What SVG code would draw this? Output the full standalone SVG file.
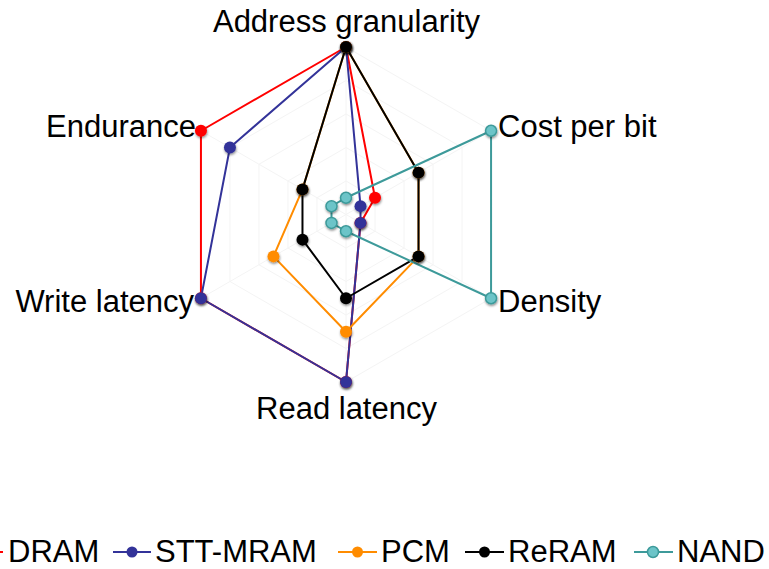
<svg xmlns="http://www.w3.org/2000/svg" width="769" height="569" viewBox="0 0 769 569">
<style>
text{font-family:"Liberation Sans",Arial,sans-serif;font-size:31px;fill:#000}
.grid{fill:none;stroke:#f4f4f4;stroke-width:1}
.s{fill:none;stroke-width:2;stroke-linejoin:round}
.dram{stroke:#ff0000}.stt{stroke:#333399}.pcm{stroke:#ff8c00}.rer{stroke:#000}.nand{stroke:#3d9a9a}
.d{filter:url(#sh)}
.dram-d{fill:#ff0000}.stt-d{fill:#333399}.pcm-d{fill:#ff8c00}.rer-d{fill:#000}.nand-d{fill:#6cc4c8;stroke:#3d9a9a;stroke-width:1.5}
</style>
<defs>
<filter id="sh" x="-50%" y="-50%" width="200%" height="200%"><feDropShadow dx="0.5" dy="1.5" stdDeviation="1.2" flood-opacity="0.45"/></filter>
</defs>
<rect width="769" height="569" fill="#fff"/>
<g id="grid">
<polygon class="grid" points="346,47 491.06,130.75 491.06,298.25 346,382 200.94,298.25 200.94,130.75"/>
<polygon class="grid" points="346,80.5 462.05,147.5 462.05,281.5 346,348.5 229.95,281.5 229.95,147.5"/>
<polygon class="grid" points="346,114 433.04,164.25 433.04,264.75 346,315 258.96,264.75 258.96,164.25"/>
<polygon class="grid" points="346,147.5 404.02,181 404.02,248 346,281.5 287.98,248 287.98,181"/>
<polygon class="grid" points="346,181 375.01,197.75 375.01,231.25 346,248 316.99,231.25 316.99,197.75"/>
<path class="grid" d="M346,214.5L346,47M346,214.5L491.06,130.75M346,214.5L491.06,298.25M346,214.5L346,382M346,214.5L200.94,298.25M346,214.5L200.94,130.75"/>
</g>
<g id="connectors">
<polygon class="s dram" points="346,47 375.01,197.75 360.51,222.88 346,382 200.94,298.25 200.94,130.75"/>
<polygon class="s stt" points="346,47 360.51,206.13 360.51,222.88 346,382 200.94,298.25 229.95,147.5"/>
<polygon class="s pcm" points="346,47 418.53,172.63 418.53,256.38 346,331.75 273.47,256.38 302.48,189.38"/>
<polygon class="s rer" points="346,47 418.53,172.63 418.53,256.38 346,298.25 302.48,239.63 302.48,189.38"/>
<polygon class="s nand" points="346,197.75 491.06,130.75 491.06,298.25 346,231.25 331.49,222.88 331.49,206.13"/>
</g>
<g id="node-dram">
<circle class="d dram-d" cx="346" cy="47" r="6"/><circle class="d dram-d" cx="375.01" cy="197.75" r="6"/><circle class="d dram-d" cx="360.51" cy="222.88" r="6"/><circle class="d dram-d" cx="346" cy="382" r="6"/><circle class="d dram-d" cx="200.94" cy="298.25" r="6"/><circle class="d dram-d" cx="200.94" cy="130.75" r="6"/>
</g>
<g id="node-stt">
<circle class="d stt-d" cx="346" cy="47" r="6"/><circle class="d stt-d" cx="360.51" cy="206.13" r="6"/><circle class="d stt-d" cx="360.51" cy="222.88" r="6"/><circle class="d stt-d" cx="346" cy="382" r="6"/><circle class="d stt-d" cx="200.94" cy="298.25" r="6"/><circle class="d stt-d" cx="229.95" cy="147.5" r="6"/>
</g>
<g id="node-pcm">
<circle class="d pcm-d" cx="346" cy="47" r="6"/><circle class="d pcm-d" cx="418.53" cy="172.63" r="6"/><circle class="d pcm-d" cx="418.53" cy="256.38" r="6"/><circle class="d pcm-d" cx="346" cy="331.75" r="6"/><circle class="d pcm-d" cx="273.47" cy="256.38" r="6"/><circle class="d pcm-d" cx="302.48" cy="189.38" r="6"/>
</g>
<g id="node-reram">
<circle class="d rer-d" cx="346" cy="47" r="6"/><circle class="d rer-d" cx="418.53" cy="172.63" r="6"/><circle class="d rer-d" cx="418.53" cy="256.38" r="6"/><circle class="d rer-d" cx="346" cy="298.25" r="6"/><circle class="d rer-d" cx="302.48" cy="239.63" r="6"/><circle class="d rer-d" cx="302.48" cy="189.38" r="6"/>
</g>
<g id="node-nand">
<circle class="d nand-d" cx="346" cy="197.75" r="5.5"/><circle class="d nand-d" cx="491.06" cy="130.75" r="5.5"/><circle class="d nand-d" cx="491.06" cy="298.25" r="5.5"/><circle class="d nand-d" cx="346" cy="231.25" r="5.5"/><circle class="d nand-d" cx="331.49" cy="222.88" r="5.5"/><circle class="d nand-d" cx="331.49" cy="206.13" r="5.5"/>
</g>
<g id="axis-labels">
<text x="346.5" y="31.5" text-anchor="middle">Address granularity</text>
<text x="498" y="137">Cost per bit</text>
<text x="498" y="312">Density</text>
<text x="346.5" y="418.5" text-anchor="middle">Read latency</text>
<text x="194" y="312" text-anchor="end">Write latency</text>
<text x="196" y="137" text-anchor="end">Endurance</text>
</g>
<g id="legend">
<line class="s dram" x1="-40" y1="552" x2="3" y2="552"/><circle class="dram-d" cx="-18" cy="552" r="5.5"/>
<text x="8" y="562">DRAM</text>
<line class="s stt" x1="113" y1="552" x2="151" y2="552"/><circle class="stt-d" cx="132" cy="552" r="5.5"/>
<text x="155" y="562">STT-MRAM</text>
<line class="s pcm" x1="338" y1="552" x2="377" y2="552"/><circle class="pcm-d" cx="357.5" cy="552" r="5.5"/>
<text x="381" y="562">PCM</text>
<line class="s rer" x1="465" y1="552" x2="504" y2="552"/><circle class="rer-d" cx="484.5" cy="552" r="5.5"/>
<text x="508" y="562">ReRAM</text>
<line class="s nand" x1="634" y1="552" x2="673" y2="552"/><circle class="nand-d" cx="653" cy="552" r="5.5"/>
<text x="677" y="562">NAND</text>
</g>
</svg>
